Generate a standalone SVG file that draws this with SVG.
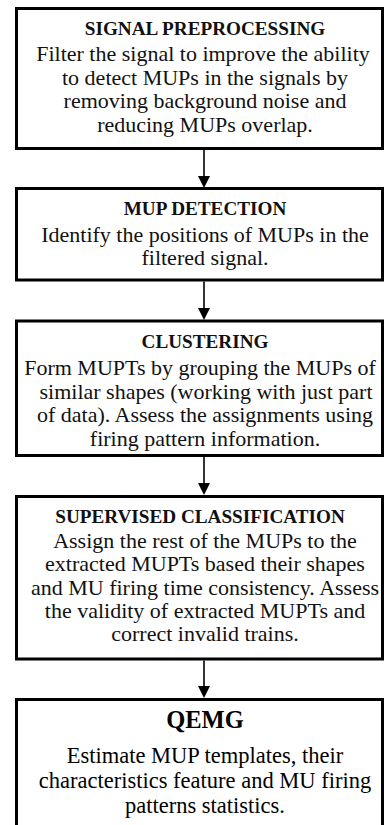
<svg xmlns="http://www.w3.org/2000/svg" width="384" height="825" viewBox="0 0 384 825">
<defs>
<style>
.box{fill:#fff;stroke:#000;stroke-width:3}
.t{font-family:"Liberation Serif","Times New Roman",serif;font-weight:bold;font-size:19.2px;fill:#111;text-anchor:middle}
.b{font-family:"Liberation Serif","Times New Roman",serif;font-size:22px;fill:#111;text-anchor:middle}
.t5{font-family:"Liberation Serif","Times New Roman",serif;font-weight:bold;font-size:24.5px;fill:#000;text-anchor:middle}
.b5{font-family:"Liberation Serif","Times New Roman",serif;font-size:22.5px;fill:#000;text-anchor:middle}
.ln{stroke:#333;stroke-width:2;fill:none}
.ah{fill:#000}
</style>
</defs>
<rect width="384" height="825" fill="#fff"/>
<g id="connectors">
<line class="ln" x1="204" y1="150" x2="204" y2="177"/><polygon class="ah" points="198,176 210,176 204,188"/>
<line class="ln" x1="204" y1="281.5" x2="204" y2="309"/><polygon class="ah" points="198,308 210,308 204,320"/>
<line class="ln" x1="204" y1="457" x2="204" y2="484"/><polygon class="ah" points="198,483 210,483 204,495"/>
<line class="ln" x1="204" y1="660.5" x2="204" y2="687"/><polygon class="ah" points="198,686 210,686 204,698"/>
</g>
<g id="signal-preprocessing">
<rect class="box" x="16.5" y="8.5" width="366" height="140"/>
<text class="t" x="205" y="35">SIGNAL PREPROCESSING</text>
<text class="b" x="203" y="61">Filter the signal to improve the ability</text>
<text class="b" x="205" y="84.5">to detect MUPs in the signals by</text>
<text class="b" x="205" y="108">removing background noise and</text>
<text class="b" x="205" y="131.5">reducing MUPs overlap.</text>
</g>
<g id="mup-detection">
<rect class="box" x="16.5" y="188.5" width="366" height="91.5"/>
<text class="t" x="205" y="215">MUP DETECTION</text>
<text class="b" x="205" y="241.5">Identify the positions of MUPs in the</text>
<text class="b" x="205" y="265">filtered signal.</text>
</g>
<g id="clustering">
<rect class="box" x="16.5" y="321" width="366" height="134.5"/>
<text class="t" x="205" y="348">CLUSTERING</text>
<text class="b" x="200" y="375">Form MUPTs by grouping the MUPs of</text>
<text class="b" x="206" y="398.5">similar shapes (working with just part</text>
<text class="b" x="205" y="422">of data). Assess the assignments using</text>
<text class="b" x="205" y="445.5">firing pattern information.</text>
</g>
<g id="supervised-classification">
<rect class="box" x="16.5" y="496.5" width="366" height="162.5"/>
<text class="t" x="200" y="523">SUPERVISED CLASSIFICATION</text>
<text class="b" x="205" y="547.5">Assign the rest of the MUPs to the</text>
<text class="b" x="205" y="571">extracted MUPTs based their shapes</text>
<text class="b" x="205" y="594.5">and MU firing time consistency. Assess</text>
<text class="b" x="205" y="617.5">the validity of extracted MUPTs and</text>
<text class="b" x="205" y="641">correct invalid trains.</text>
</g>
<g id="qemg">
<rect class="box" x="16.5" y="699.5" width="366" height="140"/>
<text class="t5" x="205" y="728">QEMG</text>
<text class="b5" x="205" y="763">Estimate MUP templates, their</text>
<text class="b5" x="205" y="788">characteristics feature and MU firing</text>
<text class="b5" x="205" y="813">patterns statistics.</text>
</g>
</svg>
